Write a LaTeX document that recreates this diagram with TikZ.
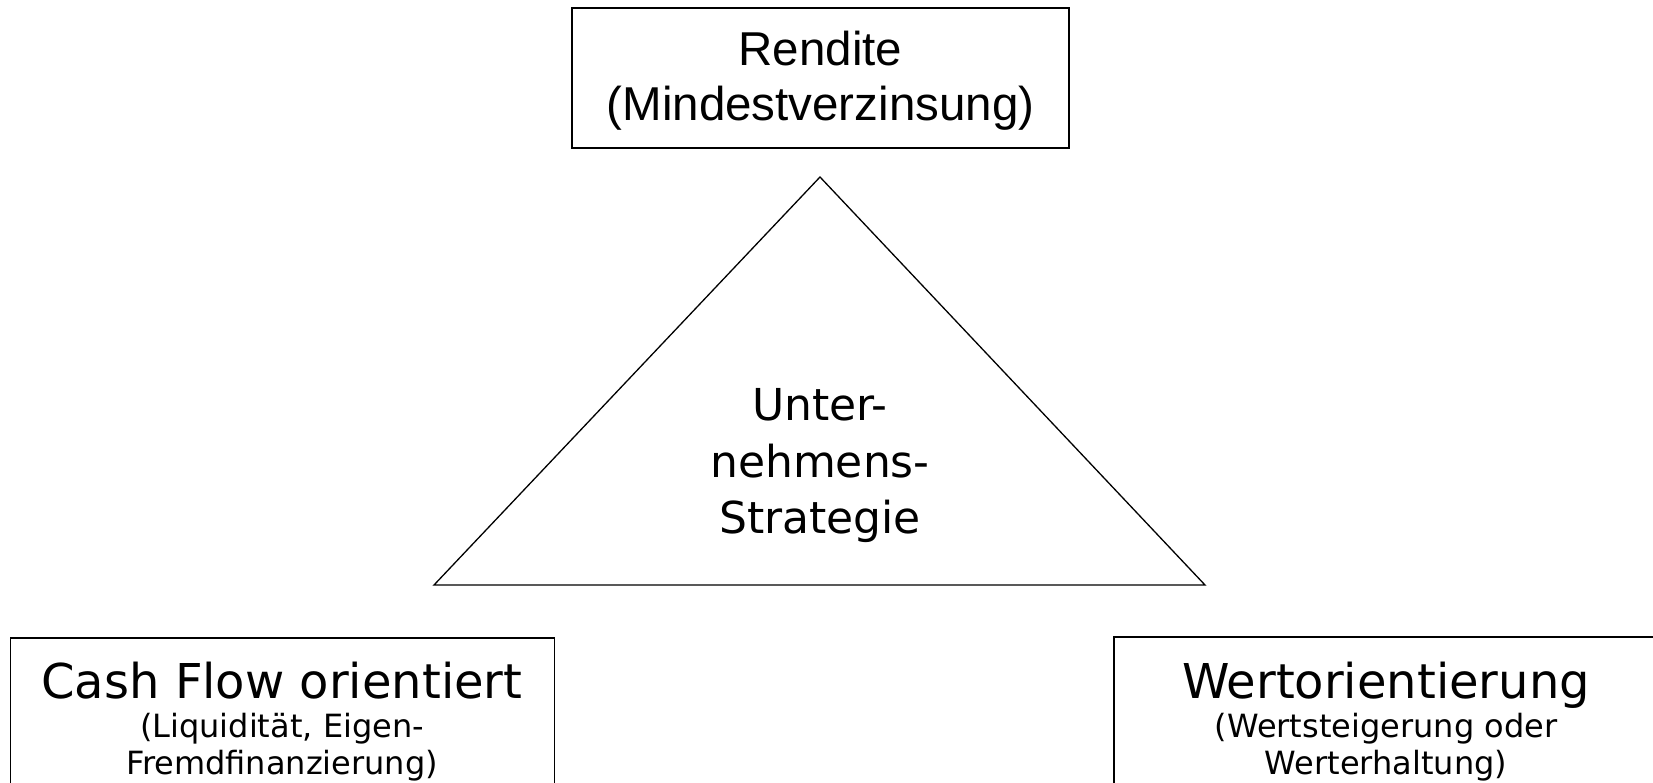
\documentclass[tikz,border=0pt]{standalone}
\usepackage{fontspec}
\setmainfont{DejaVu Sans}
\newfontfamily\arialfont{Liberation Sans}
\begin{document}
\begin{tikzpicture}[x=1pt,y=-1pt,
  frame/.style={draw=black, line width=1.6pt, inner sep=0pt, outer sep=0pt},
  topfont/.style={font=\arialfont\fontsize{47.5}{55}\selectfont},
  titlefont/.style={font=\fontsize{48}{56}\selectfont},
  subfont/.style={font=\fontsize{32}{37}\selectfont},
  trifont/.style={font=\fontsize{44}{56}\selectfont},
  line/.style={anchor=base, inner sep=0pt, outer sep=0pt}]
\useasboundingbox (0,0) rectangle (1653,782);
\clip (0,0) rectangle (1653,782);
% top box
\node[frame, minimum width=497pt, minimum height=140pt] (rendite) at (820.5,78) {};
\node[line, topfont] (r1) at (820.5,65) {Rendite};
\node[line, topfont] (r2) at (820.5,120) {(Mindestverzinsung)};
% triangle
\coordinate (apex) at (820,177);
\coordinate (bl) at (434,585);
\coordinate (br) at (1205,585);
\draw[line width=1.3pt, line join=miter] (apex) -- (bl) -- (br) -- cycle;
\node[line, trifont] (t1) at (820,420) {Unter-};
\node[line, trifont] (t2) at (820,477) {nehmens-};
\node[line, trifont] (t3) at (820,533) {Strategie};
% left box
\node[frame, minimum width=544pt, minimum height=180pt] (cash) at (282.5,728) {};
\node[line, titlefont] (c1) at (282,698) {Cash Flow orientiert};
\node[line, subfont] (c2) at (282,737) {(Liquidität, Eigen-};
\node[line, subfont] (c3) at (282,774) {Fremdfinanzierung)};
% right box
\node[frame, minimum width=546pt, minimum height=180pt] (wert) at (1387,727) {};
\node[line, titlefont] (w1) at (1386,698) {Wertorientierung};
\node[line, subfont] (w2) at (1386,737) {(Wertsteigerung oder};
\node[line, subfont] (w3) at (1386,774) {Werterhaltung)};
\end{tikzpicture}
\end{document}
